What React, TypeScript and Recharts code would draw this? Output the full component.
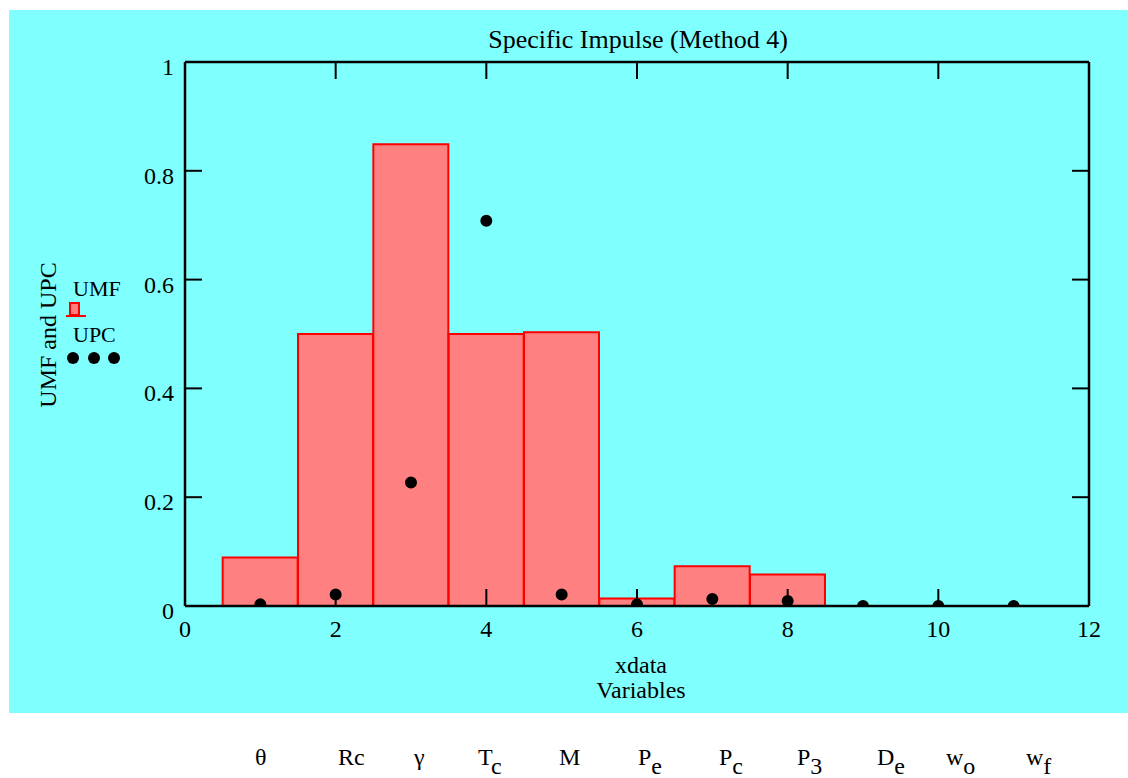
import React from 'react';
import { ComposedChart, Bar, Scatter, XAxis, YAxis, ZAxis, ReferenceLine } from 'recharts';

// ---- data ----
const xValues = [1, 2, 3, 4, 5, 6, 7, 8, 9, 10, 11];
const umfValues = [0.089, 0.5, 0.849, 0.5, 0.503, 0.014, 0.073, 0.058, 0, 0, 0];
const upcValues = [0.003, 0.021, 0.227, 0.708, 0.021, 0.003, 0.013, 0.009, 0, 0, 0];
const xTicks = [0, 2, 4, 6, 8, 10, 12];
const yTicks = [0, 0.2, 0.4, 0.6, 0.8, 1];
const variableNames = ['θ', 'Rc', 'γ', 'T', 'M', 'P', 'P', 'P', 'D', 'w', 'w'];
const variableSubs = ['', '', '', 'c', '', 'e', 'c', '3', 'e', 'o', 'f'];
const titleText = 'Specific Impulse (Method 4)';
const xTitle1 = 'xdata';
const xTitle2 = 'Variables';
const yTitle = 'UMF and UPC';
const legendNames = ['UMF', 'UPC'];

// layout (not data)
const variableLabelX = [255, 338, 414, 478, 559, 638, 719, 797, 877, 946, 1026];

const chartData = xValues.map((x, i) => ({ x, umf: umfValues[i], upc: upcValues[i] }));

const FONT = '"Liberation Serif", "Times New Roman", serif';
const TICK_LEN = 17;
const CHART_W = 1128;
const CHART_H = 778;
const MARGIN = { left: 184, right: 38, top: 61, bottom: 171 };
const AXIS_THICK = 1;
const PLOT_H = CHART_H - MARGIN.top - MARGIN.bottom - 2 * AXIS_THICK;
// inward tick length of the x frame ticks, in y-axis units
const X_TICK_FRAC = TICK_LEN / PLOT_H;

const BottomTick = (props: any) => {
  const { x, y, payload } = props;
  return (
    <g>
      <text x={x} y={y + 31} textAnchor="middle" fontFamily={FONT} fontSize={24} fill="#000">
        {payload.value}
      </text>
    </g>
  );
};

const LeftTick = (props: any) => {
  const { x, y, payload } = props;
  return (
    <g>
      <line x1={x} y1={y} x2={x + TICK_LEN} y2={y} stroke="#000" strokeWidth={2} />
      <text x={x - 11} y={y + 13} textAnchor="end" fontFamily={FONT} fontSize={24} fill="#000">
        {payload.value}
      </text>
    </g>
  );
};

const RightTick = (props: any) => {
  const { x, y } = props;
  return (
    <g>
      <line x1={x} y1={y} x2={x - TICK_LEN} y2={y} stroke="#000" strokeWidth={2} />
    </g>
  );
};

export default function App() {
  return (
    <div style={{ position: 'absolute', left: 0, top: 0, width: CHART_W, height: CHART_H, background: '#fff' }}>
      <div style={{ position: 'absolute', left: 9, top: 10, width: 1119, height: 703, background: '#80FFFF' }} />
      <div style={{ position: 'absolute', left: 0, top: 0 }}>
        <ComposedChart
          width={CHART_W}
          height={CHART_H}
          data={chartData}
          margin={MARGIN}
          barCategoryGap={0}
          barGap={0}
        >
          <XAxis
            xAxisId="x"
            dataKey="x"
            type="number"
            domain={[0, 12]}
            ticks={xTicks}
            allowDataOverflow
            orientation="bottom"
            height={AXIS_THICK}
            tickSize={0}
            tickMargin={0}
            tickLine={false}
            axisLine={{ stroke: '#000', strokeWidth: 2.5 }}
            tick={BottomTick}
            interval={0}
          />
          <XAxis
            xAxisId="top"
            dataKey="x"
            type="number"
            domain={[0, 12]}
            allowDataOverflow
            orientation="top"
            height={AXIS_THICK}
            tickSize={0}
            tickMargin={0}
            tickLine={false}
            axisLine={{ stroke: '#000', strokeWidth: 2.5 }}
            tick={false}
          />
          <YAxis
            yAxisId="y"
            type="number"
            domain={[0, 1]}
            ticks={yTicks}
            allowDataOverflow
            orientation="left"
            width={AXIS_THICK}
            tickSize={0}
            tickMargin={0}
            tickLine={false}
            axisLine={{ stroke: '#000', strokeWidth: 2.5 }}
            tick={LeftTick}
            interval={0}
          />
          <YAxis
            yAxisId="right"
            type="number"
            domain={[0, 1]}
            ticks={yTicks}
            allowDataOverflow
            orientation="right"
            width={AXIS_THICK}
            tickSize={0}
            tickMargin={0}
            tickLine={false}
            axisLine={{ stroke: '#000', strokeWidth: 2.5 }}
            tick={RightTick}
            interval={0}
          />
          <ZAxis range={[113, 113]} />
          {xTicks.map((t) => (
            <ReferenceLine
              key={`b${t}`}
              xAxisId="x"
              yAxisId="y"
              segment={[{ x: t, y: 0 }, { x: t, y: X_TICK_FRAC }]}
              stroke="#000"
              strokeWidth={2}
            />
          ))}
          {xTicks.map((t) => (
            <ReferenceLine
              key={`t${t}`}
              xAxisId="x"
              yAxisId="y"
              segment={[{ x: t, y: 1 }, { x: t, y: 1 - X_TICK_FRAC }]}
              stroke="#000"
              strokeWidth={2}
            />
          ))}
          <Bar
            xAxisId="x"
            yAxisId="y"
            dataKey="umf"
            fill="#FF8080"
            stroke="#FF0000"
            strokeWidth={2}
            isAnimationActive={false}
          />
          <Scatter
            xAxisId="x"
            yAxisId="y"
            dataKey="upc"
            fill="#000"
            shape="circle"
            isAnimationActive={false}
          />
        </ComposedChart>
      </div>
      <svg
        width={CHART_W}
        height={CHART_H}
        style={{ position: 'absolute', left: 0, top: 0, pointerEvents: 'none' }}
      >
        <g fontFamily={FONT} fill="#000">
          <text x={638} y={48} textAnchor="middle" fontSize={26}>{titleText}</text>
          <text x={641} y={673} textAnchor="middle" fontSize={24}>{xTitle1}</text>
          <text x={641} y={698} textAnchor="middle" fontSize={24}>{xTitle2}</text>
          <text x={56} y={335} textAnchor="middle" fontSize={24} transform="rotate(-90 56 335)">
            {yTitle}
          </text>
          {/* legend */}
          <text x={73} y={296} fontSize={22}>{legendNames[0]}</text>
          <rect x={70} y={303} width={9} height={12} fill="#FF8080" stroke="#FF0000" strokeWidth={2} />
          <line x1={66} y1={316} x2={86} y2={316} stroke="#FF0000" strokeWidth={2} />
          <text x={73} y={342} fontSize={22}>{legendNames[1]}</text>
          <circle cx={73} cy={358} r={6} fill="#000" />
          <circle cx={94} cy={358} r={6} fill="#000" />
          <circle cx={114} cy={358} r={6} fill="#000" />
          {/* variable names */}
          {variableNames.map((name, i) => (
            <text key={i} x={variableLabelX[i]} y={765} fontSize={24}>
              {name}
              {variableSubs[i] ? (
                <tspan dy={9}>{variableSubs[i]}</tspan>
              ) : null}
            </text>
          ))}
        </g>
      </svg>
    </div>
  );
}
